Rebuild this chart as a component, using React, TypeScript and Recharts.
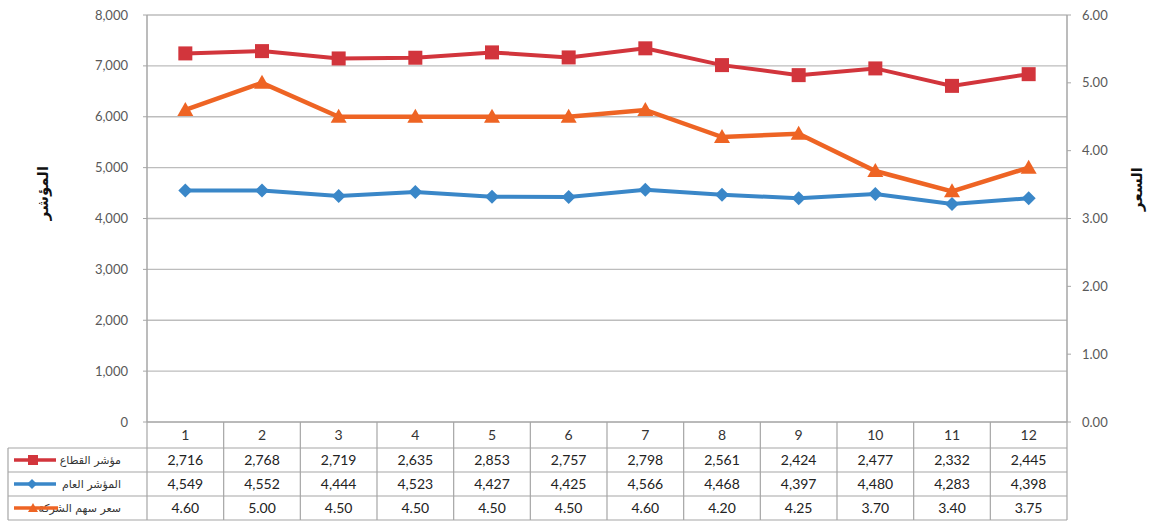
import React from 'react';
import { ComposedChart, Line, XAxis, YAxis, CartesianGrid } from 'recharts';

// categories and table rows, as printed in the chart's data table
const categories = ['1', '2', '3', '4', '5', '6', '7', '8', '9', '10', '11', '12'];
const sectorLabels = ['2,716', '2,768', '2,719', '2,635', '2,853', '2,757', '2,798', '2,561', '2,424', '2,477', '2,332', '2,445'];
const generalIndex = [4549, 4552, 4444, 4523, 4427, 4425, 4566, 4468, 4397, 4480, 4283, 4398];
const sharePrice = [4.6, 5.0, 4.5, 4.5, 4.5, 4.5, 4.6, 4.2, 4.25, 3.7, 3.4, 3.75];
// where the sector line is actually drawn
const sectorPlotted = [7245, 7290, 7146, 7160, 7265, 7166, 7345, 7015, 6818, 6950, 6607, 6837];

const leftTicks = [0, 1000, 2000, 3000, 4000, 5000, 6000, 7000, 8000];
const rightTicks = [0, 1, 2, 3, 4, 5, 6];

const seriesNames = ['مؤشر القطاع', 'المؤشر العام', 'سعر سهم الشركة'];

const RED = '#D2353C';
const BLUE = '#3A87C8';
const ORANGE = '#EE6424';

const W = 1153;
const H = 522;
const PLOT_L = 147;
const PLOT_R = 1067;
const PLOT_T = 15;
const PLOT_B = 422;
const COL_W = (PLOT_R - PLOT_L) / categories.length;
const ROW_LINES = [448, 472, 496, 520];

const data = categories.map((c, i) => ({
  cat: c,
  sector: sectorPlotted[i],
  general: generalIndex[i],
  price: sharePrice[i],
}));

const Square = (props: any) => {
  const { cx, cy } = props;
  if (cx == null || cy == null) return null;
  return <rect x={cx - 7} y={cy - 7} width={14} height={14} fill={RED} />;
};

const Diamond = (props: any) => {
  const { cx, cy } = props;
  if (cx == null || cy == null) return null;
  return <polygon points={`${cx},${cy - 7} ${cx + 7},${cy} ${cx},${cy + 7} ${cx - 7},${cy}`} fill={BLUE} />;
};

const Triangle = (props: any) => {
  const { cx, cy } = props;
  if (cx == null || cy == null) return null;
  return <polygon points={`${cx},${cy - 8} ${cx + 8},${cy + 6} ${cx - 8},${cy + 6}`} fill={ORANGE} />;
};

const tableFont = 'Lato, "Open Sans", sans-serif';

const TableTick = (props: any) => {
  const { x, payload } = props;
  const i = payload.index;
  const common = { x, textAnchor: 'middle' as const, fontSize: 14, fontFamily: tableFont };
  return (
    <g>
      <text {...common} y={440} fill="#333">{categories[i]}</text>
      <text {...common} y={465} fill="#222">{sectorLabels[i]}</text>
      <text {...common} y={489} fill="#222">{generalIndex[i].toLocaleString('en-US')}</text>
      <text {...common} y={513} fill="#222">{sharePrice[i].toFixed(2)}</text>
    </g>
  );
};

const legendRows = [
  { color: RED, marker: 'square', y: 460 },
  { color: BLUE, marker: 'diamond', y: 484 },
  { color: ORANGE, marker: 'triangle', y: 508 },
];

export default function App() {
  return (
    <div style={{ position: 'absolute', left: 0, top: 0, width: W, height: H, background: '#fff' }}>
      <ComposedChart
        width={W}
        height={H}
        data={data}
        margin={{ top: PLOT_T, right: 0, left: 0, bottom: 0 }}
      >
        <CartesianGrid vertical={false} stroke="#BDBDBD" strokeWidth={1.3} yAxisId="left" />
        <XAxis
          dataKey="cat"
          scale="band"
          interval={0}
          height={H - PLOT_B}
          axisLine={{ stroke: '#A6A6A6' }}
          tickLine={false}
          tick={<TableTick />}
        />
        <YAxis
          yAxisId="left"
          orientation="left"
          width={PLOT_L}
          domain={[0, 8000]}
          ticks={leftTicks}
          tickSize={4}
          tickMargin={15}
          axisLine={{ stroke: '#A6A6A6', strokeWidth: 1.5 }}
          tickLine={{ stroke: '#A6A6A6' }}
          tickFormatter={(v: number) => v.toLocaleString('en-US')}
          tick={{ fill: '#595959', fontSize: 13, fontFamily: tableFont }}
        />
        <YAxis
          yAxisId="right"
          orientation="right"
          width={W - PLOT_R}
          domain={[0, 6]}
          ticks={rightTicks}
          tickSize={4}
          tickMargin={11}
          axisLine={{ stroke: '#A6A6A6', strokeWidth: 1.5 }}
          tickLine={{ stroke: '#A6A6A6' }}
          tickFormatter={(v: number) => v.toFixed(2)}
          tick={{ fill: '#595959', fontSize: 13, fontFamily: tableFont, textAnchor: 'start' }}
        />
        <Line
          yAxisId="left"
          dataKey="general"
          stroke={BLUE}
          strokeWidth={4}
          dot={<Diamond />}
          activeDot={false}
          isAnimationActive={false}
        />
        <Line
          yAxisId="left"
          dataKey="sector"
          stroke={RED}
          strokeWidth={4}
          dot={<Square />}
          activeDot={false}
          isAnimationActive={false}
        />
        <Line
          yAxisId="right"
          dataKey="price"
          stroke={ORANGE}
          strokeWidth={4.5}
          dot={<Triangle />}
          activeDot={false}
          isAnimationActive={false}
        />
      </ComposedChart>

      {/* data table grid and legend keys */}
      <svg
        width={W}
        height={H}
        style={{ position: 'absolute', left: 0, top: 0, pointerEvents: 'none' }}
      >
        {ROW_LINES.map((y) => (
          <line key={y} x1={8} x2={PLOT_R} y1={y} y2={y} stroke="#A6A6A6" strokeWidth={1.2} />
        ))}
        {categories.map((_, i) => (
          <line
            key={i}
            x1={PLOT_L + i * COL_W}
            x2={PLOT_L + i * COL_W}
            y1={PLOT_B}
            y2={520}
            stroke="#A6A6A6"
            strokeWidth={1.2}
          />
        ))}
        <line x1={PLOT_R} x2={PLOT_R} y1={PLOT_B} y2={520} stroke="#A6A6A6" strokeWidth={1.2} />
        <line x1={8} x2={8} y1={448} y2={520} stroke="#A6A6A6" strokeWidth={1.2} />
        {legendRows.map((r, i) => (
          <g key={i}>
            <text
              x={121}
              y={r.y + 4}
              textAnchor="end"
              fontSize={11}
              fontFamily='"DejaVu Sans", sans-serif'
              fill="#333"
            >
              {seriesNames[i]}
            </text>
            <line x1={14} x2={i === 2 ? 58 : 56} y1={r.y} y2={r.y} stroke={r.color} strokeWidth={3.5} />
            {r.marker === 'square' && <rect x={28} y={r.y - 5} width={10} height={10} fill={r.color} />}
            {r.marker === 'diamond' && (
              <polygon points={`32,${r.y - 5} 37,${r.y} 32,${r.y + 5} 27,${r.y}`} fill={r.color} />
            )}
            {r.marker === 'triangle' && (
              <polygon points={`33,${r.y - 5} 38,${r.y + 4} 28,${r.y + 4}`} fill={r.color} />
            )}
          </g>
        ))}
        <text
          x={43}
          y={193}
          transform="rotate(-90 43 193)"
          textAnchor="middle"
          dominantBaseline="central"
          fontSize={15}
          fontWeight="bold"
          fontFamily='"DejaVu Sans", sans-serif'
          fill="#111"
        >
          المؤشر
        </text>
        <text
          x={1137}
          y={189}
          transform="rotate(-90 1137 189)"
          textAnchor="middle"
          dominantBaseline="central"
          fontSize={15}
          fontWeight="bold"
          fontFamily='"DejaVu Sans", sans-serif'
          fill="#111"
        >
          السعر
        </text>
      </svg>
    </div>
  );
}
